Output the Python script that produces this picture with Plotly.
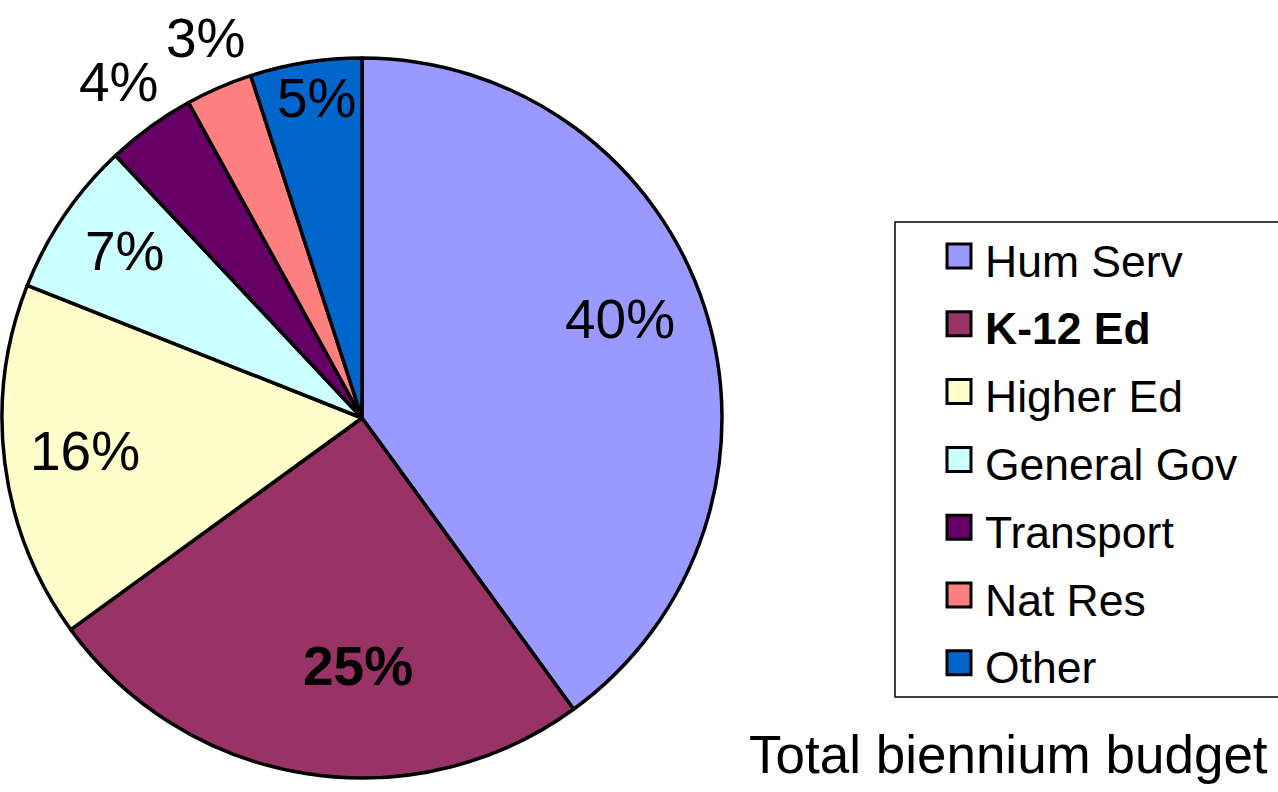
import math
import plotly.graph_objects as go

# ---- data ----
categories = ["Hum Serv", "K-12 Ed", "Higher Ed", "General Gov", "Transport", "Nat Res", "Other"]
values = [40, 25, 16, 7, 4, 3, 5]
colors = ["#9999FF", "#993366", "#FFFFCC", "#CCFFFF", "#660066", "#FF8080", "#0066CC"]
bold = [False, True, False, False, False, False, False]
title_text = "Total biennium budget"

# ---- layout / style ----
W, H = 1278, 792
CX, CY = 362, 418          # pie centre in px (from top)
R = 360                    # pie radius in px
FONT = "Liberation Sans, Arial, Helvetica, sans-serif"
label_font = 55
# per-label placement tweaks: radius (px) and angle offset (deg) from slice mid-angle
label_r = [276, 250, 279, 289, 413, 409, 321]
label_dang = [-2.6, -8.0, 0.0, 0.6, 0.0, 1.0, 1.0]
# legend geometry (px)
LEG_BOX = (895, 222, 1290, 697)
LEG_SW_X = 959
LEG_ROW0 = 256
LEG_STEP = 67.8
LEG_SW_HALF = 12
LEG_TEXT_X = 983
LEG_FONT = 44.5

fig = go.Figure()

fig.add_trace(go.Pie(
    labels=categories,
    values=values,
    sort=False,
    direction="clockwise",
    rotation=0,
    marker=dict(colors=colors, line=dict(color="black", width=3.5)),
    textinfo="none",
    hoverinfo="label+percent",
    showlegend=False,
    domain=dict(x=[(CX - R) / W, (CX + R) / W],
                y=[(H - CY - R) / H, (H - CY + R) / H]),
))

# percentage labels placed from slice mid-angles
total = sum(values)
cum = 0
for i, v in enumerate(values):
    mid = (cum + v / 2) / total * 360 + label_dang[i]
    cum += v
    px = CX + label_r[i] * math.sin(math.radians(mid))
    py = CY - label_r[i] * math.cos(math.radians(mid)) - 2
    pct = round(v / total * 100)
    txt = f"{pct}%"
    if bold[i]:
        txt = f"<b>{txt}</b>"
    fig.add_annotation(
        x=px / W, y=1 - py / H, xref="paper", yref="paper",
        text=txt, showarrow=False, xanchor="center", yanchor="middle",
        font=dict(family=FONT, size=label_font, color="black"),
    )

# title below legend
fig.add_annotation(
    x=1270 / W, y=1 - 754 / H, xref="paper", yref="paper",
    text=title_text, showarrow=False, xanchor="right", yanchor="middle",
    font=dict(family=FONT, size=53, color="black"),
)

# legend frame
x0, y0, x1, y1 = LEG_BOX
fig.add_shape(
    type="rect", xref="paper", yref="paper",
    x0=x0 / W, x1=x1 / W, y0=1 - y1 / H, y1=1 - y0 / H,
    line=dict(color="black", width=1.5), fillcolor="white", layer="below",
)

# legend entries: swatch + label for each category
for k, (name, col, b) in enumerate(zip(categories, colors, bold)):
    yc = LEG_ROW0 + k * LEG_STEP
    fig.add_shape(
        type="rect", xref="paper", yref="paper",
        x0=(LEG_SW_X - LEG_SW_HALF) / W, x1=(LEG_SW_X + LEG_SW_HALF) / W,
        y0=1 - (yc + LEG_SW_HALF) / H, y1=1 - (yc - LEG_SW_HALF) / H,
        line=dict(color="black", width=3), fillcolor=col, layer="above",
    )
    fig.add_annotation(
        x=LEG_TEXT_X / W, y=1 - (yc + 5) / H, xref="paper", yref="paper",
        text=(f"<b>{name}</b>" if b else name), showarrow=False,
        xanchor="left", yanchor="middle",
        font=dict(family=FONT, size=LEG_FONT, color="black"),
    )

fig.update_layout(
    width=W, height=H,
    margin=dict(l=0, r=0, t=0, b=0),
    paper_bgcolor="white", plot_bgcolor="white",
    showlegend=False,
)

fig.write_html("out.html", config={"displayModeBar": False},
               post_script="document.body.style.margin='0px';")
